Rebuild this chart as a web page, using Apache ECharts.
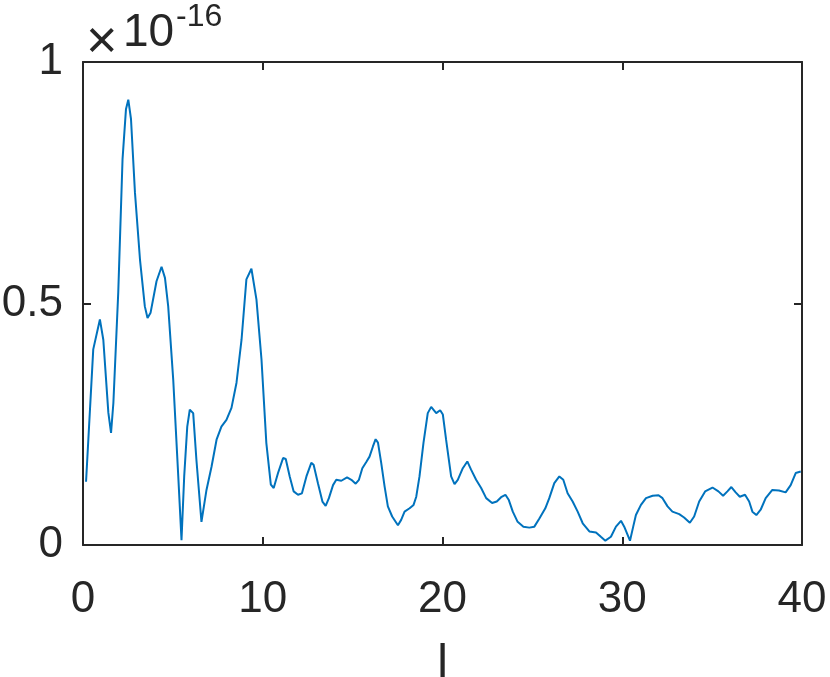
<!DOCTYPE html>
<html>
<head>
<meta charset="utf-8">
<script src="https://cdn.jsdelivr.net/npm/echarts@6/dist/echarts.min.js"></script>
<style>
  html, body { margin: 0; padding: 0; background: #fff; }
  #chart { width: 830px; height: 677px; }
</style>
</head>
<body>
<div id="chart"></div>
<script>
// values, y in units of 1e-16
const xValues = [
  0.17, 0.57, 0.94, 1.13, 1.41, 1.56, 1.69, 1.96, 2.2, 2.39, 2.52, 2.67, 2.89, 3.17, 3.44, 3.59, 3.76, 4.09, 4.37, 4.56,
  4.74, 5.02, 5.3, 5.48, 5.63, 5.8, 5.94, 6.13, 6.31, 6.59, 6.87, 7.15, 7.43, 7.7, 7.98, 8.26, 8.54, 8.82, 9.09, 9.37,
  9.65, 9.93, 10.2, 10.45, 10.61, 10.85, 11.13, 11.28, 11.5, 11.72, 11.96, 12.18, 12.43, 12.7, 12.83, 13.07, 13.32, 13.5, 13.68, 13.91,
  14.09, 14.37, 14.69, 14.93, 15.17, 15.35, 15.54, 15.76, 15.94, 16.13, 16.28, 16.41, 16.59, 16.78, 16.96, 17.2, 17.52, 17.7, 17.89, 18.17,
  18.39, 18.54, 18.72, 18.94, 19.18, 19.37, 19.65, 19.87, 20.02, 20.2, 20.48, 20.67, 20.85, 21.13, 21.38, 21.59, 21.87, 22.15, 22.43, 22.76,
  23.02, 23.26, 23.5, 23.69, 23.91, 24.18, 24.5, 24.83, 25.11, 25.39, 25.72, 25.94, 26.22, 26.5, 26.72, 26.96, 27.24, 27.52, 27.8, 28.17,
  28.54, 28.81, 29.06, 29.37, 29.65, 29.93, 30.11, 30.43, 30.61, 30.76, 31.04, 31.32, 31.69, 32.02, 32.24, 32.52, 32.79, 33.17, 33.44, 33.76,
  34.0, 34.28, 34.61, 35.02, 35.35, 35.61, 35.85, 36.07, 36.31, 36.54, 36.83, 37.06, 37.24, 37.46, 37.7, 37.98, 38.35, 38.72, 39.09, 39.37,
  39.65, 39.93
];
const yValues = [
  0.131, 0.405, 0.467, 0.425, 0.274, 0.232, 0.294, 0.522, 0.799, 0.902, 0.922, 0.882, 0.730, 0.591, 0.494, 0.470, 0.481, 0.546, 0.576, 0.553,
  0.494, 0.342, 0.142, 0.010, 0.142, 0.245, 0.280, 0.273, 0.176, 0.048, 0.114, 0.162, 0.218, 0.245, 0.259, 0.284, 0.336, 0.425, 0.550, 0.572,
  0.508, 0.384, 0.211, 0.125, 0.118, 0.149, 0.180, 0.178, 0.142, 0.111, 0.104, 0.107, 0.142, 0.170, 0.166, 0.128, 0.090, 0.081, 0.097, 0.124,
  0.135, 0.133, 0.140, 0.135, 0.127, 0.135, 0.159, 0.172, 0.183, 0.204, 0.219, 0.212, 0.170, 0.121, 0.080, 0.059, 0.041, 0.052, 0.069, 0.076,
  0.083, 0.100, 0.142, 0.211, 0.273, 0.286, 0.273, 0.279, 0.270, 0.218, 0.142, 0.126, 0.135, 0.159, 0.173, 0.156, 0.135, 0.118, 0.097, 0.087,
  0.090, 0.099, 0.104, 0.093, 0.069, 0.048, 0.038, 0.036, 0.038, 0.055, 0.076, 0.097, 0.128, 0.142, 0.135, 0.107, 0.090, 0.069, 0.045, 0.028,
  0.026, 0.017, 0.009, 0.017, 0.038, 0.050, 0.038, 0.009, 0.038, 0.062, 0.083, 0.097, 0.102, 0.103, 0.097, 0.080, 0.069, 0.064, 0.057, 0.046,
  0.059, 0.090, 0.111, 0.119, 0.111, 0.102, 0.111, 0.120, 0.109, 0.100, 0.104, 0.090, 0.069, 0.062, 0.073, 0.097, 0.114, 0.113, 0.109, 0.124,
  0.149, 0.152
];
const xTicks = [0, 10, 20, 30, 40];
const yTicks = [0, 0.5, 1];

const axisColor = '#262626';
const font = '"Liberation Sans", Arial, Helvetica, sans-serif';

const chart = echarts.init(document.getElementById('chart'));

const boxAxis = (extra) => Object.assign({
  type: 'value',
  axisLine: { show: true, onZero: false, lineStyle: { color: axisColor, width: 2 } },
  axisTick: { show: true, inside: true, length: 8, lineStyle: { color: axisColor, width: 2 } },
  splitLine: { show: false },
  axisLabel: { show: false }
}, extra);

const option = {
  animation: false,
  backgroundColor: '#fff',
  grid: { left: 83, right: 28, top: 62, bottom: 132, containLabel: false, outerBoundsMode: 'none' },
  xAxis: [
    boxAxis({
      position: 'bottom',
      min: xTicks[0], max: xTicks[xTicks.length - 1], interval: 10,
      name: 'l', nameLocation: 'middle', nameGap: 96,
      nameTextStyle: { color: axisColor, fontFamily: font, fontSize: 48 },
      axisLabel: { show: true, color: axisColor, fontFamily: font, fontSize: 44, margin: 33 }
    }),
    boxAxis({ position: 'top', min: 0, max: 40, interval: 10 })
  ],
  yAxis: [
    boxAxis({
      position: 'left',
      min: yTicks[0], max: yTicks[yTicks.length - 1], interval: 0.5,
      axisLabel: { show: true, color: axisColor, fontFamily: font, fontSize: 44, margin: 20,
        formatter: (v) => String(v) }
    }),
    boxAxis({ position: 'right', min: 0, max: 1, interval: 0.5 })
  ],
  graphic: [
    { type: 'text', left: 86, top: 16,
      style: { text: '×', font: '54px ' + font, fill: axisColor } },
    { type: 'text', left: 123, top: 10,
      style: { text: '10', font: '46px ' + font, fill: axisColor } },
    { type: 'text', left: 176, top: 1,
      style: { text: '-16', font: '32px ' + font, fill: axisColor } }
  ],
  series: [{
    type: 'line',
    data: xValues.map((x, i) => [x, yValues[i]]),
    showSymbol: false,
    smooth: false,
    lineStyle: { color: '#0072BD', width: 2 },
    clip: true
  }]
};

chart.setOption(option);
</script>
</body>
</html>
